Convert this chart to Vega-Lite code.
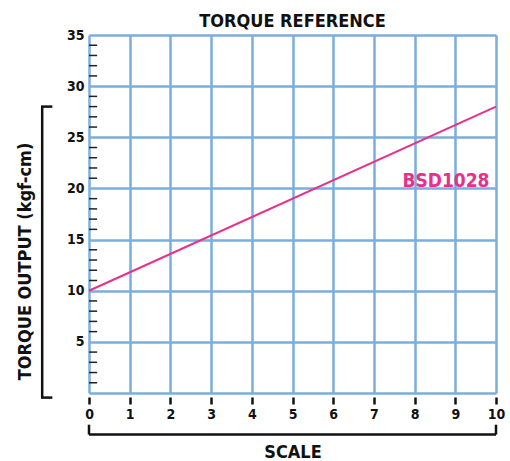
{
  "$schema": "https://vega.github.io/schema/vega-lite/v6.json",
  "width": 407,
  "height": 358,
  "autosize": {"type": "none"},
  "padding": {"left": 89, "top": 35, "right": 14, "bottom": 68},
  "background": "white",
  "config": {
    "font": "DejaVu Sans Condensed",
    "view": {"stroke": null}
  },
  "title": {
    "text": "TORQUE REFERENCE",
    "font": "DejaVu Sans Condensed",
    "fontSize": 18,
    "fontWeight": "bold",
    "color": "#111111",
    "offset": -3,
    "anchor": "middle"
  },
  "datasets": {
    "series": [
      {"scale": 0, "torque": 10, "model": "BSD1028"},
      {"scale": 10, "torque": 28, "model": "BSD1028"}
    ],
    "minor": [
      {"v": 1}, {"v": 2}, {"v": 3}, {"v": 4},
      {"v": 6}, {"v": 7}, {"v": 8}, {"v": 9},
      {"v": 11}, {"v": 12}, {"v": 13}, {"v": 14},
      {"v": 16}, {"v": 17}, {"v": 18}, {"v": 19},
      {"v": 21}, {"v": 22}, {"v": 23}, {"v": 24},
      {"v": 26}, {"v": 27}, {"v": 28}, {"v": 29},
      {"v": 31}, {"v": 32}, {"v": 33}, {"v": 34}
    ],
    "one": [{}]
  },
  "layer": [
    {
      "data": {"name": "series"},
      "mark": {"type": "line", "color": "#e8308a", "strokeWidth": 2},
      "encoding": {
        "x": {
          "field": "scale",
          "type": "quantitative",
          "scale": {"domain": [0, 10], "nice": false},
          "axis": {
            "title": "SCALE",
            "titleFont": "DejaVu Sans Condensed",
            "titleFontSize": 18,
            "titleFontWeight": "bold",
            "titleColor": "#111111",
            "titlePadding": 22,
            "values": [0, 1, 2, 3, 4, 5, 6, 7, 8, 9, 10],
            "domain": false,
            "ticks": true,
            "tickSize": 7,
            "tickWidth": 2.5,
            "tickColor": "#111111",
            "offset": 4,
            "labelFont": "DejaVu Sans Condensed",
            "labelFontSize": 14,
            "labelFontWeight": "bold",
            "labelColor": "#111111",
            "labelPadding": 3,
            "labelFlush": false,
            "grid": true,
            "gridColor": "#7aaedd",
            "gridWidth": 2.5,
            "gridOpacity": 1
          }
        },
        "y": {
          "field": "torque",
          "type": "quantitative",
          "scale": {"domain": [0, 35], "nice": false},
          "axis": {
            "title": "TORQUE OUTPUT (kgf-cm)",
            "titleFont": "DejaVu Sans Condensed",
            "titleFontSize": 18,
            "titleFontWeight": "bold",
            "titleColor": "#111111",
            "titleX": -64,
            "titleY": 226,
            "titleAlign": "center",
            "titleBaseline": "middle",
            "titleAngle": -90,
            "values": [0, 5, 10, 15, 20, 25, 30, 35],
            "labelExpr": "datum.value == 0 ? '' : datum.label",
            "domain": false,
            "ticks": false,
            "labelFont": "DejaVu Sans Condensed",
            "labelFontSize": 14,
            "labelFontWeight": "bold",
            "labelColor": "#111111",
            "labelPadding": 5,
            "grid": true,
            "gridColor": "#7aaedd",
            "gridWidth": 2.5,
            "gridOpacity": 1
          }
        }
      }
    },
    {
      "data": {"name": "minor"},
      "mark": {"type": "rule", "color": "#222222", "strokeWidth": 1.5},
      "encoding": {
        "y": {"field": "v", "type": "quantitative"},
        "x": {"datum": 0},
        "x2": {"datum": 0.2}
      }
    },
    {
      "data": {"name": "series"},
      "transform": [{"filter": "datum.scale == 10"}],
      "mark": {
        "type": "text",
        "color": "#e8308a",
        "font": "DejaVu Sans Condensed",
        "fontSize": 19,
        "fontWeight": "bold",
        "align": "center",
        "baseline": "middle"
      },
      "encoding": {
        "text": {"field": "model"},
        "x": {"datum": 8.77},
        "y": {"datum": 20.7}
      }
    },
    {
      "data": {"name": "one"},
      "mark": {"type": "rule", "color": "#111111", "strokeWidth": 2.5},
      "encoding": {
        "x": {"datum": -1.15},
        "y": {"datum": -0.45},
        "y2": {"datum": 28}
      }
    },
    {
      "data": {"name": "one"},
      "mark": {"type": "rule", "color": "#111111", "strokeWidth": 2.5},
      "encoding": {
        "x": {"datum": -1.18},
        "x2": {"datum": -0.9},
        "y": {"datum": 28}
      }
    },
    {
      "data": {"name": "one"},
      "mark": {"type": "rule", "color": "#111111", "strokeWidth": 2.5},
      "encoding": {
        "x": {"datum": -1.18},
        "x2": {"datum": -0.9},
        "y": {"datum": -0.45}
      }
    },
    {
      "data": {"name": "one"},
      "mark": {"type": "rule", "color": "#111111", "strokeWidth": 2.5},
      "encoding": {
        "x": {"datum": 0},
        "x2": {"datum": 10},
        "y": {"datum": -4.06}
      }
    },
    {
      "data": {"name": "one"},
      "mark": {"type": "rule", "color": "#111111", "strokeWidth": 2.5},
      "encoding": {
        "x": {"datum": 0},
        "y": {"datum": -3.1},
        "y2": {"datum": -4.06}
      }
    },
    {
      "data": {"name": "one"},
      "mark": {"type": "rule", "color": "#111111", "strokeWidth": 2.5},
      "encoding": {
        "x": {"datum": 10},
        "y": {"datum": -3.1},
        "y2": {"datum": -4.06}
      }
    }
  ]
}
